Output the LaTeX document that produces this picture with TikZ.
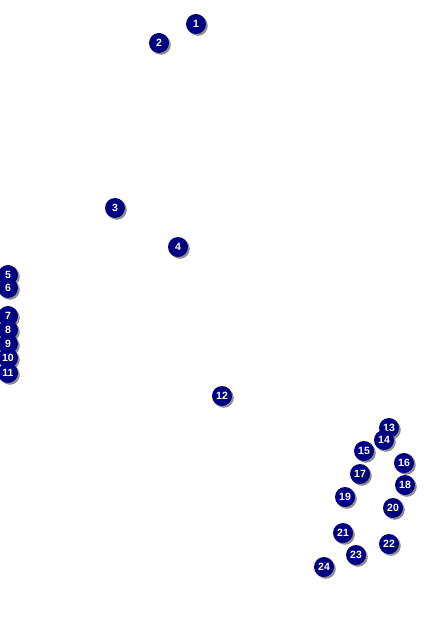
\documentclass[tikz,border=0pt]{standalone}
\usepackage{fontspec}
\setmainfont{Liberation Sans}
\usepackage{tikz}
\usetikzlibrary{shadows}
\definecolor{pinblue}{RGB}{0,0,128}

\begin{document}
\begin{tikzpicture}[
  x=1pt, y=-1pt,
  pin/.style={circle, fill=pinblue, inner sep=0pt, minimum size=20pt,
    text=white, font=\fontsize{10.5}{11}\selectfont\bfseries,
    drop shadow={shadow xshift=1.8pt, shadow yshift=-1.8pt, fill=black!55, opacity=0.8}}
]
\useasboundingbox (0,0) rectangle (424,636);
\fill[white] (0,0) rectangle (424,636);
% numbered pins, later ones on top
\foreach \n/\px/\py in {1/196/24, 2/159/43, 3/115/208, 4/178/247,
  5/8/275, 6/8/288, 7/8/316, 8/8/330, 9/8/344, 10/8/358, 11/8/373,
  12/222/396, 13/389/428, 14/384/440, 15/364/451, 16/404/463,
  17/360/474, 18/405/485, 19/345/497, 20/393/508, 21/343/533,
  22/389/544, 23/356/555, 24/324/567}
  \node[pin] (m\n) at (\px,\py) {\n};
\end{tikzpicture}
\end{document}
